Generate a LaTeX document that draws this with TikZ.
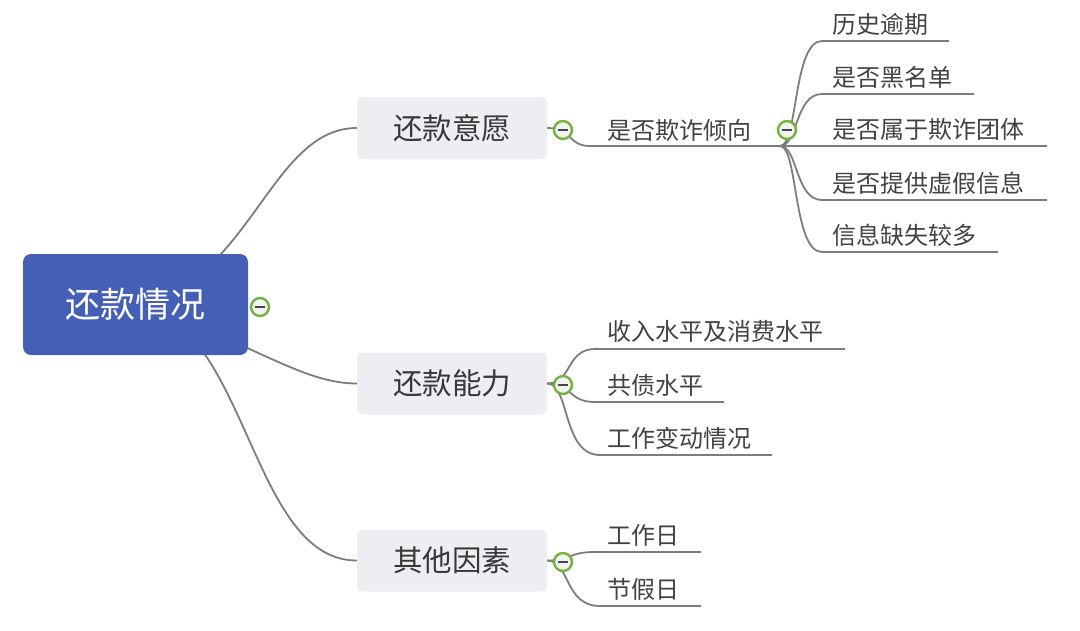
\documentclass[tikz,border=0pt]{standalone}
\usepackage{fontspec}
\setmainfont{Noto Sans CJK SC}
\usetikzlibrary{backgrounds}
\definecolor{rootblue}{RGB}{70,95,182}
\definecolor{topicgray}{RGB}{237,237,242}
\definecolor{linegray}{RGB}{125,125,125}
\definecolor{txtgray}{RGB}{66,66,66}
\definecolor{togglegreen}{RGB}{112,180,62}
\begin{document}
\begin{tikzpicture}[x=1pt,y=-1pt,
  rootnode/.style={fill=rootblue, rounded corners=8pt, minimum width=225pt, minimum height=101pt, text=white, font=\fontsize{35}{40}\selectfont, inner sep=0pt},
  topic/.style={fill=topicgray, rounded corners=6pt, minimum width=190pt, minimum height=62pt, text=txtgray!85!black, font=\fontsize{29.5}{34}\selectfont, inner sep=0pt},
  leaf/.style={anchor=west, text=txtgray, font=\fontsize{24}{28}\selectfont, inner sep=0pt},
  conn/.style={draw=linegray, line width=1.8pt},
  toggle/.style={circle, draw=togglegreen, line width=2.4pt, fill=gray!10, minimum size=18pt, inner sep=0pt,
    path picture={\draw[line width=2.2pt, draw=gray!55!black] ([xshift=-5pt]path picture bounding box.center) -- ([xshift=5pt]path picture bounding box.center);}}
]
\useasboundingbox (0,0) rectangle (1080,630);

% main nodes
\node[rootnode] (root) at (135.5,304.5) {还款情况};
\node[topic] (t1) at (452,128) {还款意愿};
\node[topic] (t2) at (452,383.5) {还款能力};
\node[topic] (t3) at (452,560.5) {其他因素};

% level-2 / leaf texts
\node[leaf] (f)  at (607,130) {是否欺诈倾向};
\node[leaf] (f1) at (832,24)  {历史逾期};
\node[leaf] (f2) at (832,77)  {是否黑名单};
\node[leaf] (f3) at (832,129) {是否属于欺诈团体};
\node[leaf] (f4) at (832,183) {是否提供虚假信息};
\node[leaf] (f5) at (832,235) {信息缺失较多};
\node[leaf] (a1) at (607,331) {收入水平及消费水平};
\node[leaf] (a2) at (607,385) {共债水平};
\node[leaf] (a3) at (607,438) {工作变动情况};
\node[leaf] (o1) at (607,535) {工作日};
\node[leaf] (o2) at (607,589) {节假日};

% underline coordinates
\coordinate (fL) at (590,146);  \coordinate (fR) at (780,146);
\coordinate (f1R) at (949,41);  \coordinate (f2R) at (974,94);
\coordinate (f3R) at (1047,146); \coordinate (f4R) at (1047,200);
\coordinate (f5R) at (998,252);
\coordinate (a1R) at (845,349); \coordinate (a2R) at (724,402); \coordinate (a3R) at (772,455);
\coordinate (o1R) at (701,552); \coordinate (o2R) at (701,606);

\begin{scope}[on background layer]
  \draw[conn] (root.center) .. controls (250,285) and (270,128) .. (t1.west);
  \draw[conn] (root.center) .. controls (250,340) and (300,383.5) .. (t2.west);
  \draw[conn] (root.center) .. controls (248,320) and (250,560.5) .. (t3.west);
\end{scope}

% level 1 -> level 2
\draw[conn] (t1.east) .. controls (572,128) and (568,146) .. (fL) -- (fR);
\draw[conn] (t2.east) .. controls (572,383.5) and (566,349) .. (595,349) -- (a1R);
\draw[conn] (t2.east) .. controls (572,383.5) and (568,402) .. (595,402) -- (a2R);
\draw[conn] (t2.east) .. controls (570,383.5) and (562,455) .. (600,455) -- (a3R);
\draw[conn] (t3.east) .. controls (572,560.5) and (568,552) .. (595,552) -- (o1R);
\draw[conn] (t3.east) .. controls (570,560.5) and (564,606) .. (600,606) -- (o2R);

% fraud children
\draw[conn] (fR) .. controls (798,146) and (793,41) .. (822,41) -- (f1R);
\draw[conn] (fR) .. controls (798,146) and (795,94) .. (822,94) -- (f2R);
\draw[conn] (fR) -- (f3R);
\draw[conn] (fR) .. controls (798,146) and (795,200) .. (822,200) -- (f4R);
\draw[conn] (fR) .. controls (798,146) and (793,252) .. (822,252) -- (f5R);

% toggles
\node[toggle] (g0) at (260,307) {};
\node[toggle] (g1) at (563,130) {};
\node[toggle] (g2) at (563,385) {};
\node[toggle] (g3) at (563,562) {};
\node[toggle] (g4) at (787,130) {};
\end{tikzpicture}
\end{document}
